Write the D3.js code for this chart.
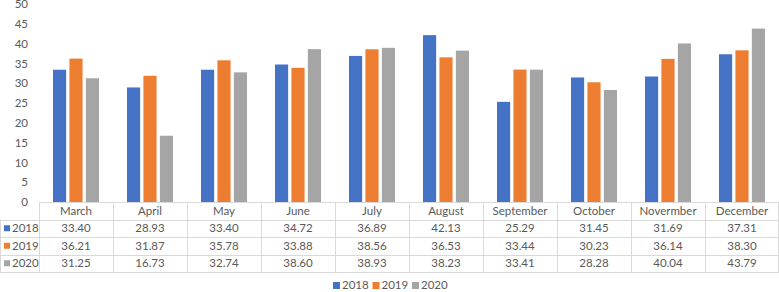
<!DOCTYPE html>
<html>
<head>
<meta charset="utf-8">
<script src="https://cdn.jsdelivr.net/npm/d3@7"></script>
<style>
  body{margin:0;background:#fff;}
  text{font-family:Lato, "Open Sans", sans-serif;fill:#595959;}
</style>
</head>
<body>
<div id="container"></div>
<script>
var months = ["March","April","May","June","July","August","September","October","Novermber","December"];
var seriesNames = ["2018","2019","2020"];
var v2018 = [33.40,28.93,33.40,34.72,36.89,42.13,25.29,31.45,31.69,37.31];
var v2019 = [36.21,31.87,35.78,33.88,38.56,36.53,33.44,30.23,36.14,38.30];
var v2020 = [31.25,16.73,32.74,38.60,38.93,38.23,33.41,28.28,40.04,43.79];
var yTicks = [0,5,10,15,20,25,30,35,40,45,50];
var colors = ["#4472C4","#ED7D31","#A5A5A5"];

var series = [v2018, v2019, v2020];
var W = 779, H = 292;
var plotLeft = 39, plotRight = 779, plotTop = 4, base = 202;
var rowH = 17.5;
var fs = 11.5;

var svg = d3.select("#container").append("svg")
  .attr("width", W).attr("height", H);

var x = d3.scaleBand().domain(months).range([plotLeft, plotRight]);
var xs = d3.scaleBand().domain(seriesNames).range([0, 46]).paddingInner(0.2);
var y = d3.scaleLinear().domain([0,50]).range([base, plotTop]);

// y axis labels
var yAxis = d3.axisLeft(y).tickValues(yTicks).tickSize(0).tickPadding(0);
var ya = svg.append("g").attr("transform","translate(28,0)").call(yAxis);
ya.select(".domain").remove();
ya.selectAll("text").attr("font-size",fs).attr("fill","#595959").style("font-family","Lato, 'Open Sans', sans-serif");

// bars
series.forEach(function(vals, si){
  svg.append("g").selectAll("rect").data(vals).enter().append("rect")
    .attr("x", function(d,i){ return x(months[i]) + (x.bandwidth()-46)/2 + xs(seriesNames[si]); })
    .attr("width", xs.bandwidth())
    .attr("y", function(d){ return y(d); })
    .attr("height", function(d){ return base - y(d); })
    .attr("fill", colors[si]);
});

// data table
var tb = svg.append("g").attr("stroke","#d9d9d9").attr("stroke-width",1).attr("fill","none");
tb.append("line").attr("x1",plotLeft).attr("x2",plotRight).attr("y1",base+0.5).attr("y2",base+0.5);
for(var r=1;r<=4;r++){
  var yy = Math.round(base + r*rowH) + 0.5;
  tb.append("line").attr("x1",0).attr("x2",plotRight).attr("y1",yy).attr("y2",yy);
}
months.forEach(function(m){
  var xx = Math.round(x(m)) + 0.5;
  tb.append("line").attr("x1",xx).attr("x2",xx).attr("y1",base).attr("y2",base+4*rowH);
});
tb.append("line").attr("x1",plotRight-0.5).attr("x2",plotRight-0.5).attr("y1",base).attr("y2",base+4*rowH);
tb.append("line").attr("x1",0.5).attr("x2",0.5).attr("y1",base+rowH).attr("y2",base+4*rowH);

svg.append("g").selectAll("text").data(months).enter().append("text")
  .attr("x", function(d){ return x(d) + x.bandwidth()/2; })
  .attr("y", base + rowH/2 + 4)
  .attr("text-anchor","middle").attr("font-size",fs)
  .text(function(d){ return d; });

series.forEach(function(vals, si){
  var ry = base + (si+1)*rowH;
  svg.append("rect").attr("x",4).attr("y",ry+rowH/2-3).attr("width",6).attr("height",6).attr("fill",colors[si]);
  svg.append("text").attr("x",12).attr("y",ry+rowH/2+4).attr("font-size",fs).text(seriesNames[si]);
  svg.append("g").selectAll("text").data(vals).enter().append("text")
    .attr("x", function(d,i){ return x(months[i]) + x.bandwidth()/2; })
    .attr("y", ry + rowH/2 + 4)
    .attr("text-anchor","middle").attr("font-size",fs)
    .text(function(d){ return d.toFixed(2); });
});

// legend
var lg = svg.append("g").attr("transform","translate(333,289)");
var lx = 0;
seriesNames.forEach(function(s, i){
  lg.append("rect").attr("x",lx).attr("y",-7).attr("width",7).attr("height",7).attr("fill",colors[i]);
  lg.append("text").attr("x",lx+9).attr("y",0).attr("font-size",fs).text(s);
  lx += 39.5;
});
</script>
</body>
</html>
